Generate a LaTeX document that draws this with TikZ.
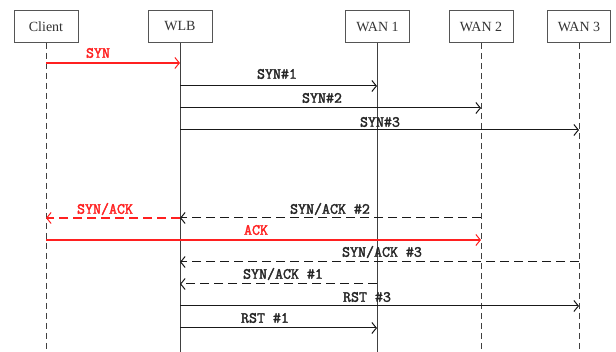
\documentclass[tikz,border=0pt]{standalone}
\usepackage{fontspec}
\setmainfont{Liberation Serif}
\newfontfamily\courb[FakeBold=2.2]{Latin Modern Mono}
\usetikzlibrary{arrows.meta}
\definecolor{boxgray}{HTML}{555555}
\definecolor{msgred}{HTML}{FF2020}
\tikzset{
  actor/.style={draw=boxgray, line width=0.9pt, minimum width=64pt, minimum height=32pt, inner sep=0pt, font=\fontsize{14}{16}\selectfont, text=black!80},
  life/.style={draw=black!75, line width=0.9pt},
  lifedash/.style={life, dash pattern=on 6pt off 4pt},
  msg/.style={draw=black!90, line width=1pt, -{Straight Barb[length=4.5pt,width=11pt,line width=1pt]}},
  msgdash/.style={msg, dash pattern=on 9pt off 5pt},
  redmsg/.style={msg, draw=msgred, line width=1.2pt},
  reddash/.style={msgdash, draw=msgred, line width=1.2pt},
  lbl/.style={font=\courb\fontsize{15.5}{17}\selectfont, text=black!85, inner sep=0pt},
  redlbl/.style={lbl, text=msgred}
}
\begin{document}
\begin{tikzpicture}[x=1pt,y=-1pt]
\useasboundingbox (0,0) rectangle (616,352);
% actors
\node[actor] (client) at (46,26.5) {Client};
\node[actor] (wlb) at (180,26.5) {WLB};
\node[actor] (wan1) at (377.5,26.5) {WAN 1};
\node[actor] (wan2) at (481,26.5) {WAN 2};
\node[actor, minimum width=63pt] (wan3) at (579,26.5) {WAN 3};
% lifeline ends
\coordinate (cE) at (46,352);
\coordinate (bE) at (180,352);
\coordinate (w1E) at (377,352);
\coordinate (w2E) at (481,352);
\coordinate (w3E) at (579,352);
\draw[lifedash] (client.south) -- (cE);
\draw[life] (wlb.south) -- (bE);
\draw[life] (wan1.south -| w1E) -- (w1E);
\draw[lifedash] (wan2.south) -- (w2E);
\draw[lifedash] (wan3.south) -- (w3E);
% message points
\foreach \n/\x in {c/46,b/180,a/377,d/481,e/579}{
  \foreach \y in {63,86,108,130,218,240,262,284,306,328}{
    \coordinate (\n\y) at (\x,\y);
  }
}
% messages
\draw[redmsg] (c63) -- (b63);
\node[redlbl] (lsyn) at (98,53) {SYN};
\draw[msg] (b86) -- (a86);
\node[lbl] (l1) at (277,74) {SYN\#1};
\draw[msg] (b108) -- (d108);
\node[lbl] (l2) at (322,98) {SYN\#2};
\draw[msg] (b130) -- (e130);
\node[lbl] (l3) at (380,122) {SYN\#3};
\draw[msgdash] (d218) -- (b218);
\node[lbl] (l4) at (330,209) {SYN/ACK \#2};
\draw[reddash] (b218) -- (c218);
\node[redlbl] (l5) at (105,209) {SYN/ACK};
\draw[redmsg] (c240) -- (d240);
\node[redlbl] (l6) at (256,230) {ACK};
\draw[msgdash] (e262) -- (b262);
\node[lbl] (l7) at (382,252) {SYN/ACK \#3};
\draw[msgdash] (a284) -- (b284);
\node[lbl] (l8) at (283,274) {SYN/ACK \#1};
\draw[msg] (b306) -- (e306);
\node[lbl] (l9) at (367,297) {RST \#3};
\draw[msg] (b328) -- (a328);
\node[lbl] (l10) at (265,318) {RST \#1};
\end{tikzpicture}
\end{document}
